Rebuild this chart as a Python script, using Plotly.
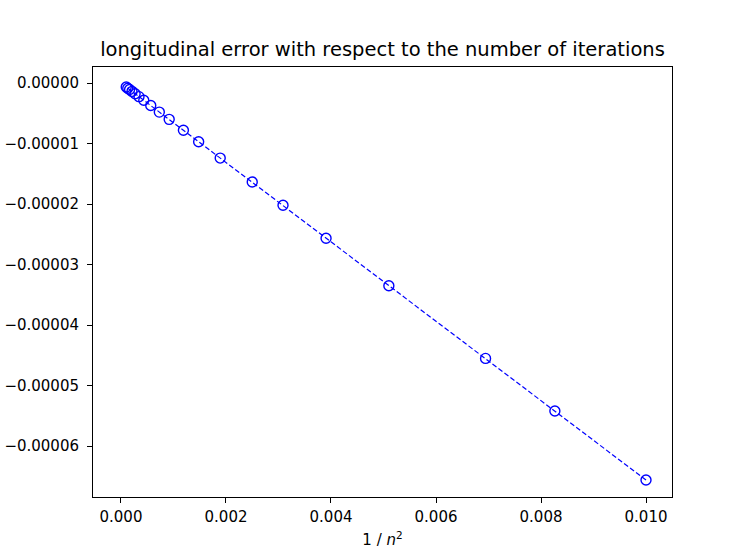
import plotly.graph_objects as go

# 1/n^2 values
x_vals = [0.01, 0.008264, 0.006944, 0.005102, 0.003906, 0.003086, 0.0025,
          0.00189, 0.001479, 0.001189, 0.000918, 0.00073, 0.000567, 0.000434,
          0.000343, 0.000269, 0.00021, 0.000164, 0.000129, 0.0001]
# longitudinal error
y_vals = [-6.56e-5, -5.42e-5, -4.55e-5, -3.35e-5, -2.565e-5, -2.02e-5, -1.635e-5,
          -1.24e-5, -0.97e-5, -0.78e-5, -0.60e-5, -0.48e-5, -0.37e-5, -0.285e-5,
          -0.225e-5, -0.177e-5, -0.138e-5, -0.108e-5, -0.085e-5, -0.066e-5]

x_ticks = [0.0, 0.002, 0.004, 0.006, 0.008, 0.010]
y_ticks = [0.0, -1e-5, -2e-5, -3e-5, -4e-5, -5e-5, -6e-5]

fig = go.Figure()
fig.add_trace(go.Scatter(
    x=x_vals, y=y_vals, mode="lines+markers",
    line=dict(color="blue", width=1.2, dash="5px,2.5px"),
    marker=dict(symbol="circle-open", size=10, color="blue", line=dict(width=1.4, color="blue")),
    showlegend=False,
))

font = dict(family="DejaVu Sans", size=15, color="black")
W, H = 747, 560
fig.update_layout(
    width=W, height=H,
    margin=dict(l=93, r=75, t=67, b=63, autoexpand=False),
    paper_bgcolor="white", plot_bgcolor="white",
    font=font,
    title=dict(text="longitudinal error with respect to the number of iterations",
               x=0.5, xref="paper", xanchor="center", y=1 - 49 / H, yanchor="middle",
               font=dict(family="DejaVu Sans", size=19.5, color="black")),
)
fig.update_xaxes(
    range=[-0.000533, 0.010495], tickvals=x_ticks,
    ticktext=[f"{v:.3f}" for v in x_ticks],
    showgrid=False, zeroline=False, showline=True, linecolor="black", linewidth=1,
    mirror=True, ticks="outside", ticklen=5, tickcolor="black", ticklabelstandoff=1,
    title=dict(text="1 / <i>n</i><sup>2</sup>", standoff=9, font=font),
)
fig.update_yaxes(
    range=[-6.84e-5, 0.265e-5], tickvals=y_ticks,
    ticktext=[f"{v:.5f}".replace("-", "\u2212") for v in y_ticks],
    showgrid=False, zeroline=False, showline=True, linecolor="black", linewidth=1,
    mirror=True, ticks="outside", ticklen=5, tickcolor="black", ticklabelstandoff=5,
)
fig.write_html("out.html", config={"displayModeBar": False},
               post_script="document.body.style.margin='0px';")
